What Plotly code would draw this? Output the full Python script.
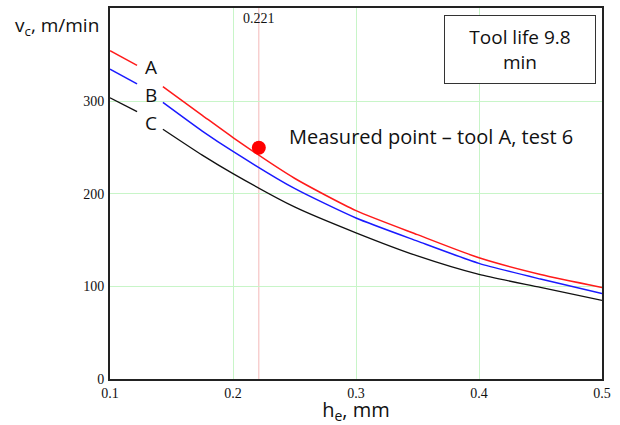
import plotly.graph_objects as go

# feed h_e, mm (None = gap left for the curve label)
he = [0.1, 0.122, None, 0.143, 0.175, 0.2, 0.25, 0.3, 0.35, 0.4, 0.45, 0.5]
vc_A = [355, 339, None, 316, 285, 261, 217, 182, 156, 131, 113, 99]
vc_B = [335, 319, None, 299, 268, 246, 206, 174, 149, 125, 108, 92.5]
vc_C = [304, 289, None, 270, 242, 222, 186, 158, 133, 113, 99, 85]

meas_he = [0.221]
meas_vc = [250]

x_ticks = [0.1, 0.2, 0.3, 0.4, 0.5]
y_ticks = [0, 100, 200, 300]

serif = "Liberation Serif"
sans = "Open Sans"

fig = go.Figure()
fig.add_trace(go.Scatter(x=he, y=vc_A, mode="lines", line=dict(color="#ff1a1a", width=1.5, shape="spline", smoothing=0.6), connectgaps=False))
fig.add_trace(go.Scatter(x=he, y=vc_B, mode="lines", line=dict(color="#1a1aff", width=1.5, shape="spline", smoothing=0.6), connectgaps=False))
fig.add_trace(go.Scatter(x=he, y=vc_C, mode="lines", line=dict(color="#111111", width=1.3, shape="spline", smoothing=0.6), connectgaps=False))
fig.add_trace(go.Scatter(x=meas_he, y=meas_vc, mode="markers", marker=dict(color="#ff0000", size=14)))

# measured-value marker line
fig.add_shape(type="line", x0=0.221, x1=0.221, y0=0, y1=1, yref="paper",
              line=dict(color="#f4b8b8", width=1), layer="below")

fig.add_annotation(x=0.221, y=1, yref="paper", yanchor="top", text="0.221", showarrow=False,
                   font=dict(family=serif, size=14, color="#111"), yshift=-1)

fig.add_annotation(x=0.1335, y=337, text="A", showarrow=False, font=dict(family=sans, size=19, color="#111"))
fig.add_annotation(x=0.1335, y=307, text="B", showarrow=False, font=dict(family=sans, size=19, color="#111"))
fig.add_annotation(x=0.1335, y=277, text="C", showarrow=False, font=dict(family=sans, size=19, color="#111"))

fig.add_annotation(x=0.2435, y=262, xanchor="left", text="Measured point \u2013 tool A, test 6", showarrow=False,
                   font=dict(family=sans, size=20, color="#111"))

fig.add_annotation(x=(520 - 110) / 492, y=(379 - 48) / 373, xref="paper", yref="paper",
                   xanchor="center", yanchor="middle",
                   text="Tool life 9.8<br>min", showarrow=False, align="center",
                   font=dict(family=sans, size=19, color="#111"),
                   bordercolor="#333", borderwidth=1, bgcolor="white", width=148, height=65)

fig.add_annotation(x=-0.197, y=(379 - 24) / 373, xref="paper", yref="paper", xanchor="left", yanchor="middle",
                   text="v<sub>c</sub>, m/min", showarrow=False, font=dict(family=sans, size=19, color="#111"))

fig.update_layout(
    width=620, height=425,
    margin=dict(l=110, r=18, t=6, b=46),
    paper_bgcolor="white", plot_bgcolor="white",
    showlegend=False,
    xaxis=dict(range=[0.1, 0.5], tickvals=x_ticks, ticktext=["0.1", "0.2", "0.3", "0.4", "0.5"],
               showgrid=True, gridcolor="#c8f5c8", gridwidth=1, zeroline=False,
               showline=True, linecolor="#222", linewidth=2, mirror=True, ticks="",
               tickfont=dict(family=serif, size=14, color="#111"),
               title=dict(text="h<sub>e</sub>, mm", font=dict(family=sans, size=20, color="#111"), standoff=2)),
    yaxis=dict(range=[0, 401], tickvals=y_ticks, ticktext=["0", "100", "200", "300"],
               showgrid=True, gridcolor="#c8f5c8", gridwidth=1, zeroline=False,
               showline=True, linecolor="#222", linewidth=2, mirror=True, ticks="",
               ticklabelstandoff=1,
               tickfont=dict(family=serif, size=14, color="#111")),
)

fig.write_html("out.html", config={"displayModeBar": False},
               post_script="document.body.style.margin='0';")
